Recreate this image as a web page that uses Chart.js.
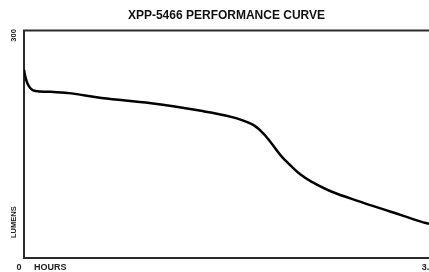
<!DOCTYPE html>
<html>
<head>
<meta charset="utf-8">
<script src="https://cdn.jsdelivr.net/npm/chart.js@4"></script>
<style>
  html, body { margin: 0; padding: 0; background: #fff; }
  canvas { display: block; }
</style>
</head>
<body>
<canvas id="perf-curve-canvas" width="429" height="272"></canvas>
<script>
'use strict';

// values
const hours  = [0, 0.01, 0.03, 0.06, 0.1, 0.23, 0.41, 0.67, 1.1, 1.53, 1.79, 1.96, 2.05, 2.13, 2.22, 2.31, 2.39, 2.48, 2.65, 2.91, 3.17, 3.43, 3.5];
const lumens = [248, 240, 230, 223, 220, 219, 217, 211, 204, 194, 186, 177, 167, 153, 135, 121, 110, 101, 88, 74, 61, 48, 45];
const xRange = [0, 3.5];
const yRange = [0, 300];
const xTickLabels = ['0', '3.5'];
const yTickLabels = ['300'];

const points = hours.map((h, i) => ({ x: h, y: lumens[i] }));

// frame + axis texts, positioned from the chart's own scales
const framePlugin = {
    id: 'frameAndLabels',
    beforeDatasetsDraw(chart) {
        const { ctx, chartArea: a } = chart;
        ctx.save();
        ctx.strokeStyle = '#2a2a2a';
        ctx.lineWidth = 2;
        ctx.beginPath();
        ctx.moveTo(a.right + 2, a.top);
        ctx.lineTo(a.left, a.top);
        ctx.lineTo(a.left, a.bottom);
        ctx.lineTo(a.right + 2, a.bottom);
        ctx.stroke();
        ctx.restore();
    },
    afterDraw(chart) {
        const { ctx, chartArea: a, scales } = chart;
        const x = scales.x, y = scales.y;
        ctx.save();
        ctx.fillStyle = '#222';
        ctx.textBaseline = 'middle';

        // bottom texts
        ctx.font = 'bold 9px "Liberation Sans", Arial, sans-serif';
        ctx.textAlign = 'center';
        ctx.fillText(xTickLabels[0], x.getPixelForValue(xRange[0]) - 5, a.bottom + 10);
        ctx.fillText(xTickLabels[1], x.getPixelForValue(xRange[1]) - 1, a.bottom + 10);
        ctx.textAlign = 'left';
        ctx.fillText('HOURS', a.left + 10, a.bottom + 10);

        // left rotated texts
        ctx.translate(a.left - 10, 0);
        ctx.rotate(-Math.PI / 2);
        ctx.font = 'bold 7.5px "Liberation Sans", Arial, sans-serif';
        ctx.textAlign = 'center';
        ctx.fillText(yTickLabels[0], -(y.getPixelForValue(yRange[1]) + 5), 0);
        ctx.textAlign = 'left';
        ctx.fillText('LUMENS', -(a.bottom - 20), 0);
        ctx.restore();
    }
};

new Chart(document.getElementById('perf-curve-canvas').getContext('2d'), {
    type: 'line',
    data: {
        datasets: [{
            label: 'Lumens',
            data: points,
            borderColor: '#000',
            borderWidth: 2.5,
            pointRadius: 0,
            fill: false,
            tension: 0.4
        }]
    },
    options: {
        responsive: false,
        animation: false,
        devicePixelRatio: 1,
        layout: { padding: { left: 24, right: 0, top: 0, bottom: 14 } },
        scales: {
            x: { type: 'linear', min: xRange[0], max: xRange[1], display: false },
            y: { min: yRange[0], max: yRange[1], display: false }
        },
        plugins: {
            legend: { display: false },
            tooltip: { enabled: false },
            title: {
                display: true,
                text: 'XPP-5466 PERFORMANCE CURVE',
                color: '#111',
                font: { family: '"Liberation Sans", Arial, sans-serif', size: 12, weight: 'bold' },
                padding: { top: 8, bottom: 8 }
            }
        }
    },
    plugins: [framePlugin]
});
</script>
</body>
</html>
